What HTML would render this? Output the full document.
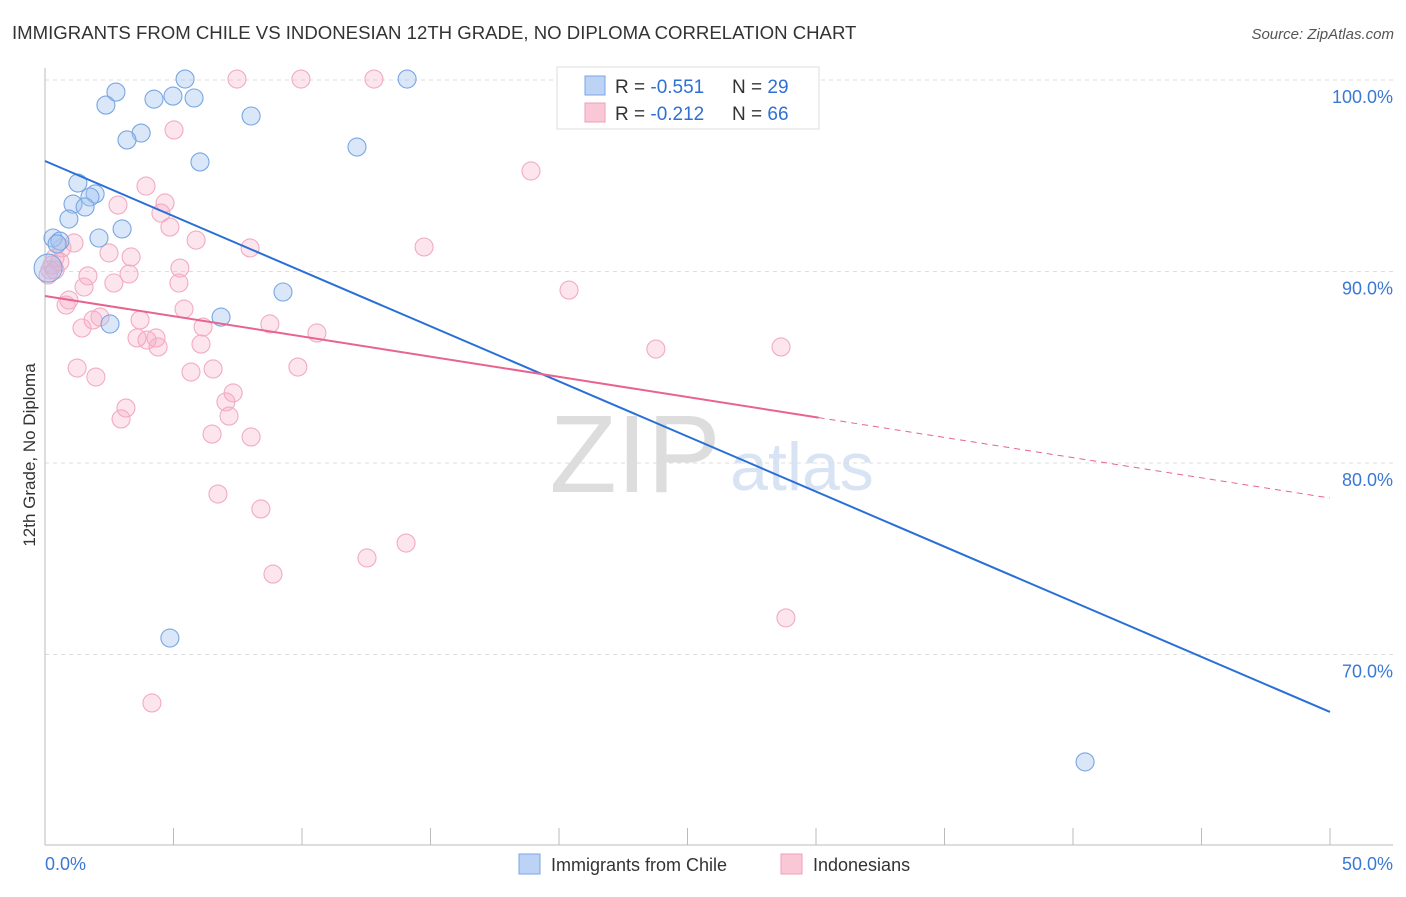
<!DOCTYPE html>
<html><head><meta charset="utf-8"><style>
body{margin:0;background:#fff;font-family:"Liberation Sans",sans-serif}
svg text{font-family:"Liberation Sans",sans-serif}
</style></head><body>
<svg id="c" width="1406" height="892" xmlns="http://www.w3.org/2000/svg">
<text x="12" y="39" font-size="18.6" fill="#333">IMMIGRANTS FROM CHILE VS INDONESIAN 12TH GRADE, NO DIPLOMA CORRELATION CHART</text>
<text x="1394" y="39" font-size="15" fill="#555" font-style="italic" text-anchor="end">Source: ZipAtlas.com</text>
<text x="635" y="492" font-size="110" fill="#ddd" text-anchor="middle" font-family="Liberation Serif">ZIP</text>
<text x="802" y="490" font-size="68" fill="#d8e4f4" text-anchor="middle">atlas</text>
<g id="grid"></g><g id="axes"></g><g id="marks"></g><g id="trend"></g>
<text transform="translate(35,455) rotate(-90)" font-size="17" fill="#333" text-anchor="middle">12th Grade, No Diploma</text>
<g>
<rect x="557" y="67" width="262" height="62" fill="#fff" stroke="#ddd"/>
<rect x="585" y="76" width="20" height="19" fill="#bcd3f5" stroke="#7aa6e3"/>
<rect x="585" y="103" width="20" height="19" fill="#f9c7d6" stroke="#ef9fb7"/>
<text x="615" y="93" font-size="19" fill="#333">R = <tspan fill="#2f6fd6">-0.551</tspan></text>
<text x="732" y="93" font-size="19" fill="#333">N = <tspan fill="#2f6fd6">29</tspan></text>
<text x="615" y="120" font-size="19" fill="#333">R = <tspan fill="#2f6fd6">-0.212</tspan></text>
<text x="732" y="120" font-size="19" fill="#333">N = <tspan fill="#2f6fd6">66</tspan></text>
</g>
<g>
<rect x="519" y="854" width="21" height="20" fill="#bcd3f5" stroke="#7aa6e3"/>
<text x="551" y="871" font-size="18" fill="#333">Immigrants from Chile</text>
<rect x="781" y="854" width="21" height="20" fill="#f9c7d6" stroke="#ef9fb7"/>
<text x="813" y="871" font-size="18" fill="#333">Indonesians</text>
</g>
</svg>
<script>
const yTicks=[100,90,80,70];
const yTickLabels=["100.0%","90.0%","80.0%","70.0%"];
const xTickLabels=["0.0%","50.0%"];
const chileX=[5.45,14.09,2.76,2.37,4.24,4.98,5.80,8.02,3.74,3.19,6.03,12.14,1.28,1.95,1.75,1.09,1.56,0.93,3.00,2.10,0.31,0.58,0.47,9.26,6.85,2.53,4.86,40.47,0.12];
const chileY=[100.05,100.05,99.37,98.69,99.0,99.16,99.06,98.12,97.23,96.87,95.72,96.5,94.62,94.05,93.89,93.52,93.37,92.74,92.22,91.75,91.75,91.59,91.44,88.93,87.62,87.26,70.86,64.39,90.18];
const indoX=[7.47,9.96,12.80,5.02,18.91,3.93,4.67,2.84,4.51,4.86,5.88,1.13,7.98,14.75,2.49,3.35,0.66,0.39,5.25,1.67,3.27,1.52,2.68,5.21,20.39,0.93,0.82,5.41,2.14,1.87,3.70,8.75,6.15,10.58,1.44,3.58,3.97,4.32,4.40,6.07,23.77,28.64,1.25,5.68,6.54,9.84,1.98,7.32,7.04,3.15,7.16,2.96,6.50,8.02,6.73,8.40,14.05,12.53,8.87,28.83,4.16,0.19,0.27,0.12,0.39,0.58];
const indoY=[100.05,100.05,100.05,97.39,95.25,94.46,93.58,93.47,93.05,92.32,91.64,91.49,91.23,91.28,90.97,90.76,91.23,90.71,90.18,89.77,89.87,89.19,89.40,89.40,89.03,88.51,88.25,88.04,87.62,87.47,87.47,87.26,87.10,86.79,87.05,86.53,86.42,86.53,86.06,86.21,85.95,86.06,84.96,84.75,84.91,85.01,84.49,83.66,83.19,82.87,82.45,82.30,81.51,81.36,78.38,77.60,75.82,75.04,74.20,71.91,67.47,90.08,90.34,89.82,90.08,90.50];
const chileTrend=[95.77,67.0];
const indoTrend=[88.72,78.17];
const indoSolidEnd=30.1;
const NS="http://www.w3.org/2000/svg";
const X=v=>45+v*25.7, Y=v=>80+(100-v)*19.15;
function mk(t,a,p){const e=document.createElementNS(NS,t);for(const k in a)e.setAttribute(k,a[k]);p.appendChild(e);return e;}
const grid=document.getElementById('grid'),axes=document.getElementById('axes'),marks=document.getElementById('marks'),trend=document.getElementById('trend');
yTicks.forEach((t,i)=>{
 const l=mk('line',{x1:45,x2:1393,y1:Y(t),y2:Y(t),stroke:'#ddd','stroke-dasharray':'4 4'},grid);
 
 
 const tx=mk('text',{x:1393,y:Y(t)+23,'font-size':18,fill:'#3a78d4','text-anchor':'end'},axes);
 tx.textContent=yTickLabels[i];
 
 
});
mk('line',{x1:45,x2:45,y1:68,y2:845,stroke:'#bbb'},axes);
mk('line',{x1:45,x2:1393,y1:845,y2:845,stroke:'#bbb'},axes);
for(let i=0;i<=10;i++){const t=mk('line',{x1:X(i*5),x2:X(i*5),y1:828,y2:845,stroke:'#bbb'},axes);
 
 }
[[0,'start',45],[50,'end',1393]].forEach((d,i)=>{const t=mk('text',{x:d[2],y:870,'font-size':18,fill:'#3a78d4','text-anchor':d[1]},axes);t.textContent=xTickLabels[i];
 
 });
indoX.forEach((x,i)=>{const c=mk('circle',{cx:X(x),cy:Y(indoY[i]),r:9,fill:'rgba(247,170,195,0.3)',stroke:'#f2abc1','stroke-width':1.1},marks);
 
 });
chileX.forEach((x,i)=>{const c=mk('circle',{cx:X(x),cy:Y(chileY[i]),r:(i==28?14:9),fill:'rgba(160,195,240,0.4)',stroke:'#79a6e2','stroke-width':1.1},marks);
 
 });
let l=mk('line',{x1:X(0),y1:Y(chileTrend[0]),x2:X(50),y2:Y(chileTrend[1]),stroke:'#2a6fd8','stroke-width':2},trend);


const iy=x=>indoTrend[0]+(indoTrend[1]-indoTrend[0])*x/50;
l=mk('line',{x1:X(0),y1:Y(iy(0)),x2:X(indoSolidEnd),y2:Y(iy(indoSolidEnd)),stroke:'#e8648e','stroke-width':2},trend);


l=mk('line',{x1:X(indoSolidEnd),y1:Y(iy(indoSolidEnd)),x2:X(50),y2:Y(iy(50)),stroke:'#e8648e','stroke-width':1,'stroke-dasharray':'6 5'},trend);


</script>
</body></html>
